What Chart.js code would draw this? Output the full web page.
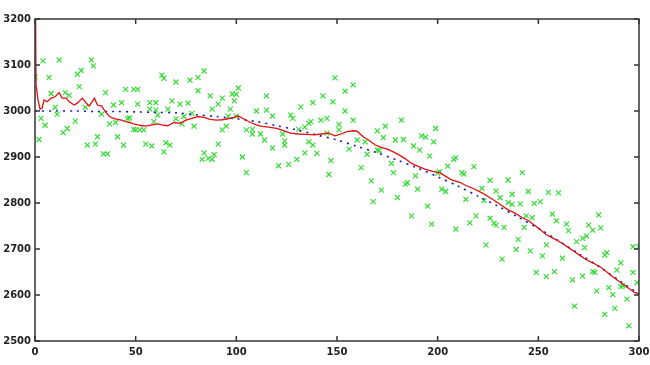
<!DOCTYPE html>
<html>
<head>
<meta charset="utf-8">
<script src="https://cdn.jsdelivr.net/npm/chart.js@4/dist/chart.umd.min.js"></script>
<style>
  body { margin: 0; background: #fff; }
  #plot { display: block; }
</style>
</head>
<body>
<canvas id="plot" width="650" height="365"></canvas>
<script>
// tick labels
const xTicks = [0, 50, 100, 150, 200, 250, 300];
const yTicks = [2500, 2600, 2700, 2800, 2900, 3000, 3100, 3200];

// green measurements (x index, value)
const greenX = [0, 2, 3, 4, 5, 7, 8, 10, 11, 12, 14, 15, 16, 17, 20, 21, 22, 23, 25, 26, 28, 29, 30, 31, 33, 34, 35, 36, 37, 39,
  40, 41, 43, 44, 45, 46, 47, 49, 49, 50, 51, 51, 52, 54, 55, 57, 57, 58, 59, 60, 60, 61, 63, 64, 64, 65, 66, 67, 68, 70,
  70, 72, 73, 74, 76, 77, 78, 79, 81, 81, 84, 83, 84, 86, 87, 88, 88, 89, 91, 91, 93, 93, 95, 96, 97, 98, 99, 100, 100, 101,
  103, 105, 105, 108, 108, 110, 112, 114, 115, 115, 118, 118, 121, 123, 124, 124, 126, 127, 128, 130, 131, 132, 134, 134, 136, 136, 137, 138, 138, 140,
  142, 143, 145, 145, 146, 147, 148, 149, 151, 151, 154, 154, 156, 158, 158, 160, 162, 164, 165, 167, 168, 170, 170, 171, 172, 173, 174, 177, 178, 179,
  180, 182, 183, 184, 185, 187, 188, 189, 190, 191, 192, 194, 195, 196, 197, 198, 199, 200, 201, 202, 204, 205, 208, 209, 209, 212, 213, 214, 216, 218,
  219, 222, 223, 224, 226, 226, 228, 229, 229, 231, 232, 233, 235, 235, 237, 237, 239, 240, 241, 242, 243, 244, 245, 246, 247, 248, 249, 251, 252, 254,
  254, 255, 257, 258, 259, 260, 262, 264, 265, 267, 268, 269, 272, 272, 273, 274, 275, 277, 277, 278, 279, 280, 281, 283, 283, 284, 285, 287, 288, 289,
  291, 291, 292, 294, 295, 297, 297, 299, 300];
const greenY = [3074, 2938, 2984, 3109, 2969, 3073, 3038, 3008, 2993, 3111, 2953, 3040, 2962, 3034, 2978, 3080, 3053, 3088, 3008, 2926, 3111, 3098, 2928, 2944, 2993, 2907, 3040, 2907, 2972, 3013,
  2975, 2944, 3018, 2926, 3047, 2984, 2985, 3047, 2960, 2959, 3047, 3015, 2959, 2959, 2928, 3018, 3004, 2924, 2977, 3002, 3018, 2991, 3078, 3071, 2911, 2931, 3004, 2926, 3022, 3063,
  2983, 3015, 2972, 2988, 3017, 3067, 2995, 2967, 3073, 3044, 3087, 2895, 2909, 2897, 3033, 3004, 2895, 2905, 2928, 3015, 2959, 3028, 2967, 2988, 3004, 3037, 3022, 3036, 2989, 3050,
  2900, 2959, 2866, 2960, 2950, 3000, 2950, 2937, 3033, 3002, 2989, 2920, 2881, 2950, 2935, 2926, 2884, 2991, 2984, 2895, 2960, 3009, 2965, 2909, 2973, 2933, 2977, 3018, 2926, 2908,
  2980, 3033, 2984, 2952, 2862, 2892, 3020, 3072, 2971, 2959, 3043, 3000, 2917, 3057, 2980, 2937, 2877, 2933, 2906, 2848, 2803, 2957, 2915, 2914, 2828, 2942, 2967, 2886, 2866, 2937,
  2812, 2980, 2938, 2841, 2844, 2772, 2924, 2859, 2830, 2915, 2946, 2943, 2793, 2902, 2754, 2933, 2962, 2865, 2868, 2830, 2825, 2880, 2895, 2898, 2743, 2866, 2863, 2808, 2757, 2879,
  2772, 2832, 2805, 2709, 2849, 2767, 2756, 2826, 2752, 2812, 2678, 2747, 2850, 2801, 2819, 2797, 2699, 2721, 2798, 2866, 2747, 2772, 2825, 2696, 2768, 2799, 2649, 2803, 2685, 2709,
  2640, 2823, 2776, 2651, 2761, 2822, 2680, 2754, 2740, 2633, 2576, 2716, 2723, 2641, 2703, 2728, 2752, 2741, 2651, 2649, 2609, 2774, 2746, 2687, 2558, 2692, 2616, 2601, 2571, 2654,
  2670, 2618, 2620, 2591, 2533, 2705, 2649, 2627, 2705];

// red estimate
const redX = [0, 0.5, 1.5, 2.5, 3.5, 4.5, 6, 7, 8, 10, 12, 13.5, 15.5, 17, 19.5, 21, 23.5, 25.5, 27, 29.5, 31, 33, 35, 37, 39, 41, 43, 45, 47, 49,
  52, 55, 58, 61, 64, 66, 69, 72, 75, 78, 81, 84, 87, 90, 93, 97, 101, 104, 107, 110, 112, 116, 120, 123, 127, 131, 135, 139, 142, 146,
  149, 152, 155, 158, 160, 163, 166, 169, 172, 175, 178, 181, 184, 187, 190, 194, 198, 201, 204, 207, 211, 214, 218, 222, 225, 228, 232, 235, 238, 242,
  245, 248, 251, 254, 258, 262, 265, 268, 271, 274, 277, 280, 283, 286, 289, 292, 295, 298, 300];
const redY = [3400, 3057, 3024, 3004, 3006, 3024, 3020, 3024, 3028, 3031, 3040, 3028, 3028, 3020, 3013, 3017, 3028, 3017, 3011, 3028, 3013, 3011, 2998, 2988, 2984, 2982, 2980, 2977, 2975, 2972,
  2969, 2967, 2970, 2972, 2969, 2968, 2975, 2973, 2980, 2984, 2988, 2986, 2982, 2980, 2981, 2984, 2989, 2982, 2975, 2970, 2967, 2965, 2962, 2958, 2952, 2950, 2949, 2948, 2950, 2952,
  2946, 2950, 2955, 2957, 2956, 2944, 2936, 2926, 2921, 2917, 2911, 2904, 2896, 2886, 2880, 2873, 2868, 2866, 2858, 2850, 2845, 2838, 2831, 2822, 2814, 2806, 2794, 2785, 2779, 2768,
  2762, 2752, 2742, 2731, 2722, 2712, 2703, 2694, 2685, 2676, 2670, 2663, 2654, 2643, 2633, 2624, 2614, 2605, 2603];

// blue dotted trend
const blueX = [0, 10, 20, 30, 40, 50, 60, 70, 80, 90, 100, 110, 120, 130, 140, 150, 160, 170, 180, 190, 200, 210, 220, 230, 240, 250, 260, 270, 280, 290, 300];
const blueY = [3000, 3000, 3000, 2999, 2999, 2998, 2997, 2996, 2992, 2988, 2983, 2977, 2968, 2959, 2948, 2937, 2923, 2909, 2893, 2876, 2857, 2837, 2815, 2793, 2769, 2745, 2718, 2690, 2662, 2632, 2602];

const pts = (xs, ys) => xs.map((x, i) => ({ x: x, y: ys[i] }));

// box frame with inward ticks on all four sides
const framePlugin = {
  id: 'frame',
  afterDatasetsDraw(chart) {
    const { ctx, chartArea: a, scales } = chart;
    ctx.save();
    ctx.strokeStyle = '#333';
    ctx.lineWidth = 1.5;
    ctx.strokeRect(a.left, a.top, a.right - a.left, a.bottom - a.top);
    ctx.beginPath();
    xTicks.forEach(v => {
      const px = scales.x.getPixelForValue(v);
      ctx.moveTo(px, a.bottom); ctx.lineTo(px, a.bottom - 5);
      ctx.moveTo(px, a.top); ctx.lineTo(px, a.top + 5);
    });
    yTicks.forEach(v => {
      const py = scales.y.getPixelForValue(v);
      ctx.moveTo(a.left, py); ctx.lineTo(a.left + 5, py);
      ctx.moveTo(a.right, py); ctx.lineTo(a.right - 5, py);
    });
    ctx.stroke();
    ctx.restore();
  }
};

const tickFont = { family: 'DejaVu Sans', size: 10, weight: 'bold' };

new Chart(document.getElementById('plot').getContext('2d'), {
  type: 'scatter',
  data: {
    datasets: [
      {
        label: 'estimate',
        data: pts(redX, redY),
        showLine: true,
        borderColor: '#e01010',
        borderWidth: 1.3,
        pointRadius: 0,
        tension: 0,
        order: 0
      },
      {
        label: 'trend',
        data: pts(blueX, blueY),
        showLine: true,
        borderColor: '#1a1ab8',
        borderWidth: 1.6,
        borderDash: [2, 5],
        pointRadius: 0,
        tension: 0.3,
        order: 1
      },
      {
        label: 'measured',
        data: pts(greenX, greenY),
        pointStyle: 'crossRot',
        pointRadius: 3.5,
        borderColor: '#35dc35',
        borderWidth: 1.2,
        order: 2
      }
    ]
  },
  options: {
    responsive: false,
    animation: false,
    layout: { padding: { top: 19, right: 11, left: 0, bottom: 0 } },
    plugins: { legend: { display: false }, tooltip: { enabled: false } },
    scales: {
      x: {
        type: 'linear',
        min: 0,
        max: 300,
        grid: { display: false, drawTicks: false },
        border: { display: false },
        ticks: { stepSize: 50, padding: 5, color: '#222', font: tickFont, maxRotation: 0, callback: v => String(v) },
        afterFit: s => { s.height = 24; s.paddingLeft = 0; s.paddingRight = 0; }
      },
      y: {
        min: 2500,
        max: 3200,
        grid: { display: false, drawTicks: false },
        border: { display: false },
        ticks: { stepSize: 100, padding: 4, color: '#222', font: tickFont, callback: v => String(v) },
        afterFit: s => { s.width = 35; s.paddingTop = 0; s.paddingBottom = 0; }
      }
    }
  },
  plugins: [framePlugin]
});
</script>
</body>
</html>
